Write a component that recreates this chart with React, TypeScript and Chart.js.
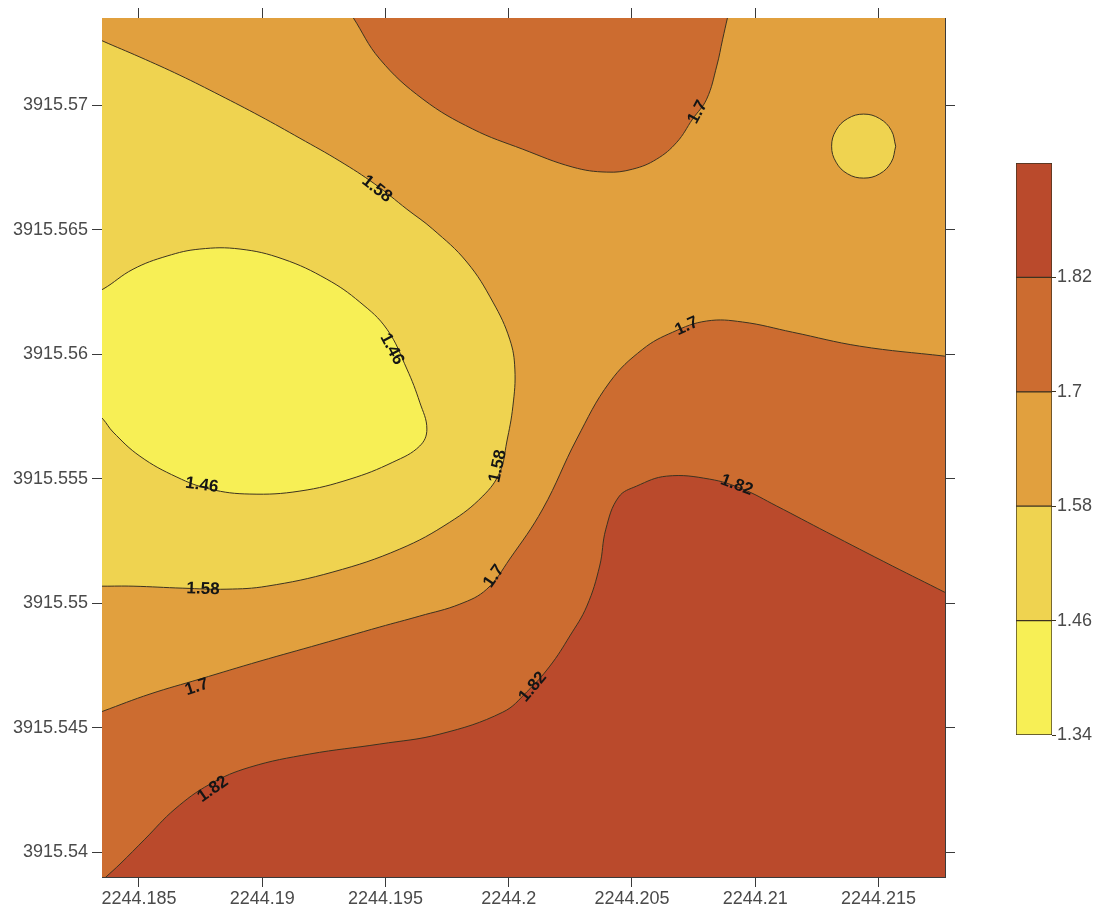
import React, { useEffect, useRef } from "react";
import { Chart, registerables } from "chart.js";

Chart.register(...registerables);

type Pt = [number, number];

// ---------- axes ----------
const xRange: [number, number] = [2244.1835, 2244.2177];
const yRange: [number, number] = [3915.539, 3915.5735];
const xTicks = [2244.185, 2244.19, 2244.195, 2244.2, 2244.205, 2244.21, 2244.215];
const xTickLabels = ["2244.185", "2244.19", "2244.195", "2244.2", "2244.205", "2244.21", "2244.215"];
const yTicks = [3915.54, 3915.545, 3915.55, 3915.555, 3915.56, 3915.565, 3915.57];
const yTickLabels = ["3915.54", "3915.545", "3915.55", "3915.555", "3915.56", "3915.565", "3915.57"];

// ---------- contour levels ----------
const levels = [1.34, 1.46, 1.58, 1.7, 1.82, 1.94];
const levelTickLabels = ["1.34", "1.46", "1.58", "1.7", "1.82"];
const levelColors = ["#F7EF55", "#EFD350", "#E1A03E", "#CC6C30", "#BA4A2C"];

// ---------- contour boundaries (x, y in map units) ----------
// 1.58 contour, west (encloses values below 1.58)
const contour158West: Pt[] = [
  [2244.18322, 3915.57273], [2244.18354, 3915.57257], [2244.18504, 3915.57193],
  [2244.18666, 3915.5712], [2244.18828, 3915.5704], [2244.18991, 3915.56956],
  [2244.19153, 3915.56867], [2244.19315, 3915.56775], [2244.19457, 3915.56683],
  [2244.19587, 3915.56582], [2244.19692, 3915.56502],
  [2244.1983, 3915.5637], [2244.19936, 3915.56209], [2244.20004, 3915.5606],
  [2244.20025, 3915.5594], [2244.20017, 3915.55791], [2244.19992, 3915.55647],
  [2244.19964, 3915.55526], [2244.19895, 3915.5543], [2244.19761, 3915.55325],
  [2244.19558, 3915.55217], [2244.19287, 3915.55125], [2244.19019, 3915.55068],
  [2244.18857, 3915.55056], [2244.18678, 3915.5506], [2244.18476, 3915.55068],
  [2244.18354, 3915.55068], [2244.18322, 3915.55068],
];
// 1.46 contour, west (encloses values below 1.46)
const contour146West: Pt[] = [
  [2244.18322, 3915.56253], [2244.18354, 3915.56261], [2244.18476, 3915.56341],
  [2244.18614, 3915.56394], [2244.18747, 3915.56422], [2244.1891, 3915.56422],
  [2244.19084, 3915.56382], [2244.19262, 3915.56301], [2244.19396, 3915.56209],
  [2244.19506, 3915.561], [2244.19587, 3915.5594], [2244.19639, 3915.55807],
  [2244.19668, 3915.55699], [2244.19639, 3915.55631], [2244.1953, 3915.55566],
  [2244.19356, 3915.55498], [2244.19153, 3915.5545], [2244.1895, 3915.55438],
  [2244.18788, 3915.55458], [2244.18654, 3915.55506], [2244.18504, 3915.5559],
  [2244.18395, 3915.55687], [2244.18354, 3915.55739], [2244.18322, 3915.55767],
];
// 1.58 contour, small closed low in the north-east
const contour158East: Pt[] = [
  [2244.2157, 3915.56835], [2244.21552, 3915.56771], [2244.21505, 3915.56724],
  [2244.2144, 3915.56707], [2244.21375, 3915.56724], [2244.21328, 3915.56771],
  [2244.2131, 3915.56835], [2244.21328, 3915.56899], [2244.21375, 3915.56946],
  [2244.2144, 3915.56964], [2244.21505, 3915.56946], [2244.21552, 3915.56899],
  [2244.2157, 3915.56835],
];
// 1.7 contour, north (encloses values above 1.7)
const contour170North: Pt[] = [
  [2244.19335, 3915.57402], [2244.19368, 3915.57353], [2244.19477, 3915.57185],
  [2244.19652, 3915.57024], [2244.19854, 3915.56904], [2244.20057, 3915.56823],
  [2244.2026, 3915.56751], [2244.20398, 3915.56731], [2244.20503, 3915.56743],
  [2244.206, 3915.56783], [2244.20682, 3915.56851], [2244.20746, 3915.56944],
  [2244.20803, 3915.57024], [2244.20844, 3915.57157], [2244.20868, 3915.57265],
  [2244.20888, 3915.57353], [2244.20901, 3915.5741],
];
// 1.7 contour, south (encloses values above 1.7)
const contour170South: Pt[] = [
  [2244.18322, 3915.54554], [2244.18354, 3915.54566], [2244.18545, 3915.54635],
  [2244.18747, 3915.54695], [2244.18991, 3915.54767], [2244.19234, 3915.54835],
  [2244.19477, 3915.54904], [2244.19639, 3915.54948], [2244.19802, 3915.54996],
  [2244.19911, 3915.55056],
  [2244.20004, 3915.55177], [2244.20138, 3915.55378], [2244.20276, 3915.55659],
  [2244.2041, 3915.55888], [2244.20544, 3915.5602], [2244.20665, 3915.56088],
  [2244.20803, 3915.56133], [2244.20949, 3915.56129], [2244.21152, 3915.56088],
  [2244.21424, 3915.56032], [2244.21768, 3915.55992], [2244.21809, 3915.55988],
  [2244.2187, 3915.55988], [2244.2187, 3915.53831], [2244.18281, 3915.53831],
  [2244.18281, 3915.54554],
];
// 1.82 contour, south (encloses values above 1.82)
const contour182South: Pt[] = [
  [2244.18322, 3915.5386], [2244.18366, 3915.539], [2244.18423, 3915.53952],
  [2244.18524, 3915.54052], [2244.18646, 3915.54173], [2244.18788, 3915.54273],
  [2244.1895, 3915.54341], [2244.19193, 3915.54394], [2244.19477, 3915.54434],
  [2244.19721, 3915.54474], [2244.19976, 3915.54562], [2244.20073, 3915.54643],
  [2244.20167, 3915.54747], [2244.20248, 3915.54868], [2244.20317, 3915.54988],
  [2244.20369, 3915.55149], [2244.20394, 3915.55297], [2244.20446, 3915.55426],
  [2244.20519, 3915.5547], [2244.20641, 3915.5551], [2244.20815, 3915.55498],
  [2244.20949, 3915.55458], [2244.21087, 3915.5539], [2244.2129, 3915.55285],
  [2244.21557, 3915.55149], [2244.21768, 3915.55044], [2244.21821, 3915.55016],
  [2244.2187, 3915.55016], [2244.2187, 3915.53831], [2244.18322, 3915.53831],
];

// ---------- contour labels ----------
const labelText = ["1.7", "1.58", "1.46", "1.46", "1.58", "1.7", "1.82", "1.58", "1.7", "1.7", "1.82", "1.82"];
const labelX = [2244.20767, 2244.19465, 2244.19526, 2244.18755, 2244.19956, 2244.20722, 2244.20925, 2244.1876, 2244.1994, 2244.18735, 2244.20098, 2244.188];
const labelY = [3915.56972, 3915.56663, 3915.5602, 3915.55474, 3915.5555, 3915.56112, 3915.55474, 3915.55056, 3915.55108, 3915.54663, 3915.54663, 3915.54253];
const labelAngle = [-62, 38, 62, 8, -78, -25, 20, 2, -55, -18, -50, -35];

const FONT = '"Liberation Sans", Arial, sans-serif';
const TEXT_COLOR = "#4a4a4a";
const LINE_COLOR = "#3d3320";
const FRAME_COLOR = "#3a3a3a";

function ContourMap() {
  const ref = useRef<HTMLCanvasElement | null>(null);
  useEffect(() => {
    const canvas = ref.current;
    if (!canvas) return;
    const regions = [
      { pts: contour158West, band: 1 },
      { pts: contour146West, band: 0 },
      { pts: contour158East, band: 1 },
      { pts: contour170North, band: 3 },
      { pts: contour170South, band: 3 },
      { pts: contour182South, band: 4 },
    ];
    const datasets = regions.map((r, i) => ({
      data: r.pts.map(([x, y]) => ({ x, y })),
      showLine: true,
      fill: "shape",
      backgroundColor: levelColors[r.band],
      borderColor: LINE_COLOR,
      borderWidth: 1,
      pointRadius: 0,
      pointHoverRadius: 0,
      tension: 0.4,
      order: regions.length - i,
    }));

    const bgPlugin = {
      id: "bandBackground",
      beforeDatasetsDraw(chart: any) {
        const { ctx, chartArea: a } = chart;
        ctx.save();
        ctx.fillStyle = levelColors[2];
        ctx.fillRect(a.left, a.top, a.right - a.left, a.bottom - a.top);
        ctx.restore();
      },
    };
    const labelPlugin = {
      id: "contourLabels",
      afterDatasetsDraw(chart: any) {
        const { ctx, chartArea: a, scales } = chart;
        ctx.save();
        ctx.beginPath();
        ctx.rect(a.left, a.top, a.right - a.left, a.bottom - a.top);
        ctx.clip();
        ctx.font = `bold 17px ${FONT}`;
        ctx.fillStyle = "#151515";
        ctx.textAlign = "center";
        ctx.textBaseline = "middle";
        labelText.forEach((t, i) => {
          const px = scales.x.getPixelForValue(labelX[i]);
          const py = scales.y.getPixelForValue(labelY[i]);
          ctx.save();
          ctx.translate(px, py);
          ctx.rotate((labelAngle[i] * Math.PI) / 180);
          ctx.fillText(t, 0, 0);
          ctx.restore();
        });
        ctx.restore();
      },
    };

    const tickFont = { family: FONT, size: 18 };
    const grid = { drawOnChartArea: false, tickLength: 10, color: FRAME_COLOR, lineWidth: 1 };
    const border = { display: true, color: FRAME_COLOR, width: 1 };
    const setXTicks = (s: any) => { s.ticks = xTicks.map((v) => ({ value: v })); };
    const setYTicks = (s: any) => { s.ticks = yTicks.map((v) => ({ value: v })); };

    const chart = new Chart(canvas, {
      type: "scatter",
      data: { datasets: datasets as any },
      options: {
        responsive: false,
        animation: false,
        devicePixelRatio: 1,
        events: [],
        layout: { padding: 0 },
        elements: { line: { capBezierPoints: false } },
        plugins: { legend: { display: false }, tooltip: { enabled: false } },
        scales: {
          x: {
            type: "linear", position: "bottom", min: xRange[0], max: xRange[1], z: 1,
            afterBuildTicks: setXTicks,
            afterFit: (s: any) => { s.height = 37; },
            ticks: {
              autoSkip: false, maxRotation: 0, color: TEXT_COLOR, font: tickFont, padding: 1,
              callback: (_v: any, i: number) => xTickLabels[i],
            },
            grid, border,
          },
          xTop: {
            type: "linear", position: "top", min: xRange[0], max: xRange[1], z: 1,
            afterBuildTicks: setXTicks,
            afterFit: (s: any) => { s.height = 18; },
            ticks: { display: false },
            grid, border,
          },
          y: {
            type: "linear", position: "left", min: yRange[0], max: yRange[1], z: 1,
            afterBuildTicks: setYTicks,
            afterFit: (s: any) => { s.width = 102; },
            ticks: {
              autoSkip: false, color: TEXT_COLOR, font: tickFont, padding: 4,
              callback: (_v: any, i: number) => yTickLabels[i],
            },
            grid, border,
          },
          yRight: {
            type: "linear", position: "right", min: yRange[0], max: yRange[1], z: 1,
            afterBuildTicks: setYTicks,
            afterFit: (s: any) => { s.width = 30; },
            ticks: { display: false },
            grid, border,
          },
        },
      } as any,
      plugins: [bgPlugin, labelPlugin],
    });
    return () => chart.destroy();
  }, []);
  return (
    <canvas ref={ref} width={975} height={914} style={{ position: "absolute", left: 0, top: 0 }} />
  );
}

function ColorBar() {
  const ref = useRef<HTMLCanvasElement | null>(null);
  useEffect(() => {
    const canvas = ref.current;
    if (!canvas) return;
    const datasets = levelColors.map((c, i) => ({
      data: [[levels[i], levels[i + 1]]],
      backgroundColor: c,
      borderColor: LINE_COLOR,
      borderWidth: 1,
      borderSkipped: false,
      grouped: false,
      barPercentage: 1,
      categoryPercentage: 1,
    }));
    const chart = new Chart(canvas, {
      type: "bar",
      data: { labels: [""], datasets: datasets as any },
      options: {
        responsive: false,
        animation: false,
        devicePixelRatio: 1,
        events: [],
        layout: { padding: { left: 16, top: 23, bottom: 25, right: 0 } },
        plugins: { legend: { display: false }, tooltip: { enabled: false } },
        scales: {
          x: { display: false },
          y: {
            position: "right", min: levels[0], max: levels[levels.length - 1],
            afterBuildTicks: (s: any) => { s.ticks = levels.slice(0, 5).map((v) => ({ value: v })); },
            afterFit: (s: any) => { s.width = 47; },
            ticks: {
              color: TEXT_COLOR, font: { family: FONT, size: 18 }, padding: 1,
              callback: (_v: any, i: number) => levelTickLabels[i],
            },
            grid: { drawOnChartArea: false, tickLength: 4, color: LINE_COLOR },
            border: { display: false },
          },
        },
      } as any,
    });
    return () => chart.destroy();
  }, []);
  return (
    <canvas ref={ref} width={99} height={620} style={{ position: "absolute", left: 1000, top: 140 }} />
  );
}

export default function App() {
  return (
    <div style={{ position: "absolute", left: 0, top: 0, width: 1099, height: 914, background: "#ffffff" }}>
      <ContourMap />
      <ColorBar />
    </div>
  );
}
